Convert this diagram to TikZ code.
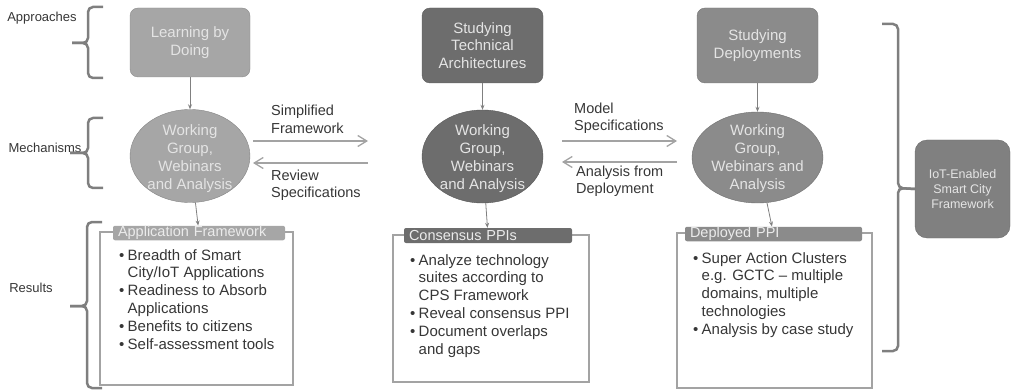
\documentclass[tikz,border=0pt]{standalone}
\usepackage{fontspec}
\setmainfont{Liberation Sans}
\usepackage{tikz}
\usetikzlibrary{arrows}
\usetikzlibrary{arrows.meta}
\usetikzlibrary{shapes.geometric}
\usetikzlibrary{calc}
\definecolor{lightbox}{HTML}{A6A6A6}
\definecolor{darkbox}{HTML}{6D6D6D}
\definecolor{midbox}{HTML}{8B8B8B}
\definecolor{iotbox}{HTML}{808080}
\definecolor{boxtext}{HTML}{E4E4E4}
\definecolor{linegray}{HTML}{A3A3A3}
\definecolor{bracegray}{HTML}{7F7F7F}
\definecolor{bodytext}{HTML}{363636}
\newcommand{\bul}{\makebox[8.5pt][l]{\textbullet}}
\newcommand{\cnt}{\hspace*{8.5pt}}

\begin{document}
\begin{tikzpicture}[x=1pt,y=-1pt]
\tikzstyle{approach}=[draw, rounded corners=8pt, text=boxtext, align=center, inner sep=0, font=\fontsize{15}{17.5}\selectfont]
\tikzstyle{mech}=[ellipse, draw, inner sep=0]
\tikzstyle{mechtext}=[text=boxtext, align=center, inner sep=0, font=\fontsize{15}{18}\selectfont]
\tikzstyle{result}=[draw=linegray, line width=1.2pt, inner sep=0]
\tikzstyle{title}=[rounded corners=2pt, text=white!92!black, align=left, inner xsep=5pt, inner ysep=0, font=\fontsize{14.5}{15}\selectfont]
\tikzstyle{bullets}=[anchor=north west, align=left, inner sep=0, text=bodytext, font=\fontsize{15}{17.8}\selectfont]
\tikzstyle{sidelabel}=[text=bodytext, inner sep=0, font=\fontsize{13}{15}\selectfont]
\tikzstyle{flowlabel}=[anchor=west, align=left, text=bodytext, inner sep=0, font=\fontsize{14.5}{17.5}\selectfont]
\tikzstyle{brace}=[draw=bracegray, line width=2.5pt, rounded corners=5pt]
\tikzstyle{flow}=[draw=linegray, line width=1.3pt, -{Straight Barb[length=9pt,width=11pt]}]
\tikzstyle{down}=[draw=gray, line width=0.8pt, -{Stealth[length=5pt,width=4pt]}]
\useasboundingbox (0,0) rectangle (1011,390);

\node [sidelabel] (appr) at (42,18) {Approaches};
\node [sidelabel] (mechl) at (45,148) {Mechanisms};
\node [sidelabel] (resl) at (31,288) {Results};
\draw [brace] (103,7) -- (88,7) -- (88,43) -- (72,43);
\draw [brace] (72,43) -- (88,43) -- (88,78) -- (103,78);
\draw [brace] (103,118) -- (88,118) -- (88,153) -- (70,153);
\draw [brace] (70,153) -- (88,153) -- (88,188) -- (103,188);
\draw [brace] (102,222) -- (87,222) -- (87,306) -- (70,306);
\draw [brace] (70,306) -- (87,306) -- (87,388) -- (102,388);

\node [approach, fill=lightbox, draw=lightbox!85!black, minimum width=120, minimum height=69] (learn) at (190,42.5) {Learning by\\Doing};
\node [approach, fill=darkbox, draw=darkbox!85!black, minimum width=121, minimum height=75] (tech) at (482.5,45.5) {Studying\\Technical\\Architectures};
\node [approach, fill=midbox, draw=midbox!85!black, minimum width=121, minimum height=75] (deploy) at (757.5,45.5) {Studying\\Deployments};

\node [mech, fill=lightbox, draw=lightbox!80!black, minimum width=120, minimum height=93] (wg1) at (190,156) {};
\node [mech, fill=darkbox, draw=darkbox!80!black, minimum width=121, minimum height=93] (wg2) at (482.5,156.5) {};
\node [mech, fill=midbox, draw=midbox!80!black, minimum width=131, minimum height=91] (wg3) at (757.5,157.5) {};
\node [mechtext] (wg1t) at (190,159) {Working\\Group,\\Webinars\\and Analysis};
\node [mechtext] (wg2t) at (482.5,159) {Working\\Group,\\Webinars\\and Analysis};
\node [mechtext] (wg3t) at (757.5,158.5) {Working\\Group,\\Webinars and\\Analysis};

\draw [down] (learn) -- (wg1);
\draw [down] (tech) -- (wg2);
\draw [down] (deploy) -- (wg3);

\coordinate (sf0) at (253,141);
\coordinate (sf1) at (368,141);
\coordinate (rs0) at (368,163);
\coordinate (rs1) at (253,163);
\coordinate (ms0) at (562,141);
\coordinate (ms1) at (677,141);
\coordinate (ad0) at (677,162);
\coordinate (ad1) at (562,162);
\draw [flow] (sf0) -- (sf1);
\draw [flow] (rs0) -- (rs1);
\draw [flow] (ms0) -- (ms1);
\draw [flow] (ad0) -- (ad1);
\node [flowlabel] (simp) at (271,119.5) {Simplified\\Framework};
\node [flowlabel] (review) at (271,185.5) {Review\\Specifications};
\node [flowlabel] (model) at (574,118.5) {Model\\Specifications};
\node [flowlabel] (anal) at (576,181.5) {Analysis from\\Deployment};

\node [result, minimum width=193, minimum height=153] (res1) at (196.5,308.5) {};
\node [result, minimum width=196, minimum height=147] (res2) at (491,308.5) {};
\node [result, minimum width=195, minimum height=155] (res3) at (774.5,310.5) {};
\node [title, fill=lightbox, text width=162, minimum height=14.5] (t1) at (199,233) {Application Framework};
\node [title, fill=darkbox, text width=158, minimum height=15] (t2) at (488,235.5) {Consensus PPIs};
\node [title, fill=midbox, text width=167, minimum height=14.5] (t3) at (773.5,234) {Deployed PPI};
\draw [down] (wg1) -- (t1);
\draw [down] (wg2) -- (t2);
\draw [down] (wg3) -- (t3);

\node [bullets] (list1) at (119,249) {\bul Breadth of Smart\\ \cnt City/IoT Applications\\ \bul Readiness to Absorb\\ \cnt Applications\\ \bul Benefits to citizens\\ \bul Self-assessment tools};
\node [bullets] (list2) at (410,254) {\bul Analyze technology\\ \cnt suites according to\\ \cnt CPS Framework\\ \bul Reveal consensus PPI\\ \bul Document overlaps\\ \cnt and gaps};
\node [bullets] (list3) at (693,252) {\bul Super Action Clusters\\ \cnt e.g. GCTC -- multiple\\ \cnt domains, multiple\\ \cnt technologies\\ \bul Analysis by case study};

\node [approach, fill=iotbox, draw=iotbox!85!black, rounded corners=12pt, minimum width=95, minimum height=98, font=\fontsize{12.5}{15}\selectfont] (iot) at (962.5,189) {IoT-Enabled\\Smart City\\Framework};
\draw [brace] (882,24) -- (898,24) -- (898,188) -- (iot.west);
\draw [brace] (iot.west) -- (898,188) -- (898,351) -- (882,351);
\end{tikzpicture}
\end{document}
